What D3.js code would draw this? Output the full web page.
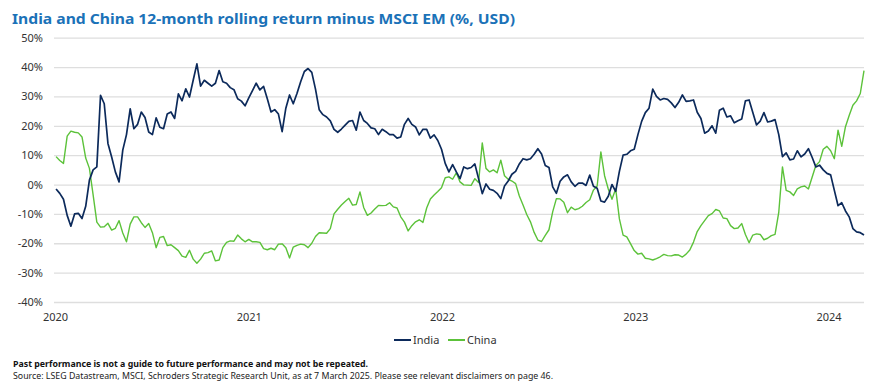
<!DOCTYPE html>
<html>
<head>
<meta charset="utf-8">
<script src="https://cdn.jsdelivr.net/npm/d3@7"></script>
<style>
  body { margin: 0; background: #fff; }
  text { font-family: 'Noto Sans', sans-serif; }
</style>
</head>
<body>
<div id="chart"></div>
<script>
// weekly readings (Fridays), 3 Jan 2020 to 8 Mar 2024
const india = [
  -1.5, -3.0, -5, -10.5, -14.2, -10, -9.8, -11.6, -7.4, 1.5,
  5, 6, 30.4, 27.5, 14, 9.4, 4.3, 0.9, 11.7, 17,
  25.8, 19, 20.5, 24.7, 22.8, 17.9, 17, 22.7, 19.5, 19,
  24, 24.7, 22.5, 30.9, 28.5, 32.6, 29.8, 35.5, 41.1, 33.5,
  35.5, 34.5, 33.5, 34.5, 38.8, 35, 34.5, 33, 32.3, 29.2,
  28.4, 26.8, 29.5, 32, 34.5, 32.2, 33.4, 29.2, 24.7, 25.5,
  24, 18, 26, 30.5, 27.5, 31, 35, 38.5, 39.5, 38.2,
  32.5, 25.5, 23.8, 23, 21.7, 18.8, 17.8, 18.9, 20.2, 21.5,
  21.8, 18.5, 24.7, 21.8, 20.8, 19.3, 19, 17, 18.8, 18,
  17, 17, 15.8, 16.2, 20.5, 22.5, 20.5, 19.6, 16.9, 18.8,
  18.8, 15.8, 16.9, 15, 12, 7.2, 4.3, 6.8, 4.3, 2,
  6, 5.4, 5.8, 7, 2, -3.1, 0.2, -1.6, -2, -3,
  -4.8, -0.5, 1.2, 3.5, 4.5, 7, 8.8, 8.4, 8.8, 10.3,
  12.2, 10.4, 6.5, 5.8, -0.8, -3.0, 1.1, 2.6, 3.3, 0.9,
  -0.6, 0.5, 0.5, -0.3, 3.2, -0.6, -1.3, -5.6, -6, -4,
  0, -2.3, 4.5, 10, 10.3, 11.5, 12, 17, 21.5, 24.5,
  26, 32.5, 30, 28.8, 29.3, 29, 27.8, 26.2, 28, 30.5,
  28.3, 28.5, 28.8, 24.6, 22.5, 17.5, 18.2, 20, 17.5, 25.3,
  26, 23, 23.4, 21, 21.7, 22.3, 28.5, 28.8, 24.5, 20.3,
  21.6, 24.5, 21.3, 21.6, 22.1, 17, 9.5, 10.8, 8.4, 8.7,
  11.5, 9.4, 10.4, 12.2, 9.3, 6, 6.6, 5, 3.8, 3.3,
  -2, -7.2, -6.2, -9, -11, -15, -16.1, -16.4, -17.2
]

const china = [
  9.5, 8.2, 7.2, 16.5, 18.2, 17.8, 17.6, 16.2, 9, 5.5,
  -3.5, -12.8, -14.5, -14.4, -13.2, -15.5, -14.9, -12.3, -16.5, -19.5,
  -13.5, -11, -11, -13, -14.6, -13.3, -16.4, -21.5, -18, -17.7,
  -20.8, -20.5, -21.5, -22.5, -24.4, -24.8, -22.4, -25.4, -26.8, -25.4,
  -23.4, -23.2, -22.6, -26, -25.7, -21.5, -19.7, -19.2, -19.3, -17.2,
  -18.5, -19.5, -18.7, -19.5, -19.5, -19.7, -21.8, -22.2, -21.7, -22.2,
  -20.3, -20.2, -21.5, -25, -21.3, -20.7, -20.3, -20.5, -21.5, -20,
  -17.7, -16.4, -16.5, -16.6, -15, -10, -8.4, -7, -5.8, -4.7,
  -7, -6.8, -2.5, -7.8, -10.5, -9.7, -8.3, -7.1, -7.2, -7.1,
  -6.2, -7.6, -8, -11, -12.8, -15.8, -14, -12.7, -12, -12.9,
  -8, -4.9, -3.6, -2.4, -1.1, 2.3, 2.6, 1.8, 4, 0.9,
  -0.1, -0.2, -0.3, 2, 0.7, 14.2, 5.5, 4.3, 5, 4,
  8.3, 3, 1.8, 1.2, 0.3, -3.9, -7, -10.2, -12.7, -16.3,
  -18.9, -19.4, -17.3, -15.4, -9.3, -4.8, -4.9, -6, -9.6, -7.7,
  -8.6, -8.2, -7.4, -6.1, -5.2, -1.9, -0.5, 11.1, 3, -1.5,
  -5, -1.5, -11.7, -17.2, -17.8, -20.1, -22.5, -23.7, -23.4, -25.1,
  -25.3, -25.7, -25.2, -24.6, -23.8, -24.2, -24.3, -23.9, -24, -24.7,
  -23.7, -22.3, -19.6, -16, -14, -12.3, -10.6, -9.9, -8.5, -9,
  -11.4, -11.6, -14, -15, -14.8, -13.3, -17, -19.8, -17.2, -16.8,
  -17, -18.8, -18.3, -17.4, -17, -9.5, 6, -2, -2.5, -3.7,
  -1.5, -0.8, -0.5, -1.5, 2.5, 6.5, 7.8, 12, 13, 11.5,
  8.8, 18.5, 13, 19.7, 23.5, 27, 28.5, 31, 38.8
]

const yTicks = [-40, -30, -20, -10, 0, 10, 20, 30, 40, 50]
const xTicks = ['2020', '2021', '2022', '2023', '2024']
const seriesNames = ['India', 'China']
const colors = ['#0c2a5b', '#5cc23a']

const width = 883
const height = 381
const plot = {left: 54, right: 864, top: 37.7, bottom: 302}

const dates = d3.timeFriday.range(new Date(2020, 0, 3), new Date(2024, 2, 9)).slice(0, india.length)

const x = d3.scaleTime()
  .domain([new Date(2020, 0, 1), new Date(2024, 2, 8)])
  .range([55, plot.right])
const y = d3.scaleLinear()
  .domain([-40, 50])
  .range([plot.bottom, plot.top])

const svg = d3.select('#chart')
  .append('svg')
  .attr('width', width)
  .attr('height', height)

svg.append('text')
  .attr('x', 12)
  .attr('y', 24)
  .attr('fill', '#1b72b8')
  .attr('font-size', 15)
  .attr('font-weight', 'bold')
  .attr('textLength', 503)
  .attr('lengthAdjust', 'spacingAndGlyphs')
  .text('India and China 12-month rolling return minus MSCI EM (%, USD)')

// y axis + gridlines
const yAxis = svg.append('g')
  .attr('transform', `translate(${plot.left},0)`)
  .call(d3.axisLeft(y).tickValues(yTicks).tickSize(-(plot.right - plot.left)).tickPadding(11).tickFormat(d => d + '%'))
yAxis.select('.domain').remove()
yAxis.selectAll('line').attr('stroke', '#dedede').attr('stroke-width', 1.3)
yAxis.selectAll('text').attr('fill', '#333').attr('font-size', 11).attr('font-family', "'Noto Sans', sans-serif")

// x axis
const xAxis = svg.append('g')
  .attr('transform', `translate(0,${plot.bottom})`)
  .call(d3.axisBottom(x).tickValues(xTicks.map(t => new Date(+t, 0, 1))).tickSize(0).tickPadding(11).tickFormat(d3.timeFormat('%Y')))
xAxis.select('.domain').remove()
xAxis.selectAll('text').attr('fill', '#333').attr('font-size', 11).attr('font-family', "'Noto Sans', sans-serif")

const line = d3.line()
  .x((d, i) => x(dates[i]))
  .y(d => y(d))

svg.append('path')
  .datum(china)
  .attr('fill', 'none')
  .attr('stroke', colors[1])
  .attr('stroke-width', 1.4)
  .attr('stroke-linejoin', 'round')
  .attr('d', line)

svg.append('path')
  .datum(india)
  .attr('fill', 'none')
  .attr('stroke', colors[0])
  .attr('stroke-width', 1.7)
  .attr('stroke-linejoin', 'round')
  .attr('d', line)

// legend
const legendX = [394, 448]
seriesNames.forEach((name, i) => {
  const g = svg.append('g').attr('transform', `translate(${legendX[i]},340)`)
  g.append('line')
    .attr('x1', 0).attr('x2', 17)
    .attr('stroke', colors[i])
    .attr('stroke-width', 2)
  g.append('text')
    .attr('x', 19)
    .attr('y', 4)
    .attr('fill', '#333')
    .attr('font-size', 11)
    .text(name)
})

svg.append('text')
  .attr('x', 13)
  .attr('y', 367)
  .attr('font-size', 8)
  .attr('font-weight', 'bold')
  .attr('fill', '#111')
  .attr('textLength', 355)
  .attr('lengthAdjust', 'spacingAndGlyphs')
  .text('Past performance is not a guide to future performance and may not be repeated.')

svg.append('text')
  .attr('x', 13)
  .attr('y', 378.5)
  .attr('font-size', 8)
  .attr('fill', '#222')
  .attr('textLength', 540)
  .attr('lengthAdjust', 'spacingAndGlyphs')
  .text('Source: LSEG Datastream, MSCI, Schroders Strategic Research Unit, as at 7 March 2025. Please see relevant disclaimers on page 46.')
</script>
</body>
</html>
